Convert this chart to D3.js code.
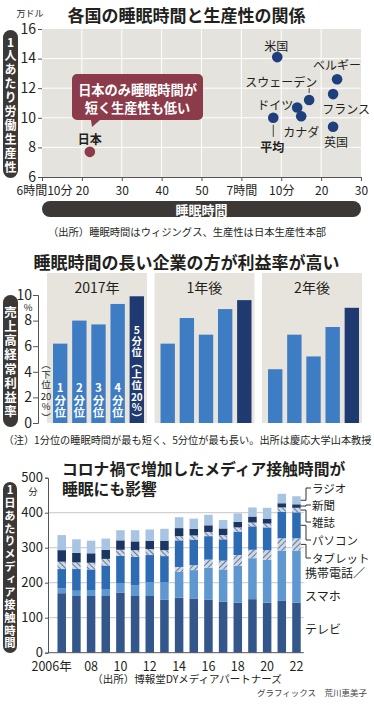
<!DOCTYPE html>
<html lang="ja">
<head>
<meta charset="utf-8">
<script src="https://cdn.jsdelivr.net/npm/d3@7"></script>
<style>
  body { margin: 0; background: #fff; }
  svg { display: block; font-family: "Noto Sans CJK JP", "Noto Sans", sans-serif; }
</style>
</head>
<body>
<svg id="chart" width="374" height="705"></svg>
<script>
// ---- Chart 1: sleep vs productivity
const countries = ['米国', 'ベルギー', 'フランス', 'スウェーデン', 'ドイツ', 'カナダ', '平均', '英国', '日本'];
const sleepMinutes = [429, 444, 443, 437, 434, 435, 428, 443, 382];
const productivity = [14.1, 12.6, 11.6, 11.2, 10.7, 10.1, 10.0, 9.4, 7.7];
const sleepTicks = [370, 380, 390, 400, 410, 420, 430, 440, 450];
const sleepTickLabels = ['6時間10分', '20', '30', '40', '50', '7時間', '10分', '20', '30'];
const productivityTicks = [6, 8, 10, 12, 14, 16];

// ---- Chart 2: profit rate by sleep quintile
const periods = ['2017年', '1年後', '2年後'];
const quintiles = ['1分位', '2分位', '3分位', '4分位', '5分位'];
const profit2017 = [6.2, 8.0, 7.7, 9.3, 9.9];
const profitYear1 = [6.2, 8.2, 6.9, 8.9, 9.6];
const profitYear2 = [4.2, 6.9, 5.2, 7.5, 9.0];
const profitTicks = [0, 2, 4, 6, 8, 10];

// ---- Chart 3: media contact minutes per day
const years = [2006, 2007, 2008, 2009, 2010, 2011, 2012, 2013, 2014, 2015, 2016, 2017, 2018, 2019, 2020, 2021, 2022];
const yearTicks = [2006, 2008, 2010, 2012, 2014, 2016, 2018, 2020, 2022];
const yearTickLabels = ['2006年', '08', '10', '12', '14', '16', '18', '20', '22'];
const tvMinutes =        [170, 162, 162, 162, 172, 162, 162, 151, 157, 155, 152, 146, 143, 153, 143, 148, 143];
const mobileMinutes =    [14, 15, 17, 20, 27, 31, 40, 51, 74, 81, 91, 92, 105, 117, 122, 144, 149];
const tabletMinutes =    [0, 0, 0, 0, 0, 0, 0, 0, 14, 14, 23, 25, 31, 24, 28, 35, 35];
const pcMinutes =        [55, 62, 59, 67, 78, 81, 77, 74, 76, 73, 67, 61, 67, 67, 65, 76, 74];
const magazineMinutes =  [21, 19, 19, 19, 17, 19, 17, 17, 12, 12, 12, 12, 12, 11, 11, 12, 13];
const newspaperMinutes = [33, 27, 27, 26, 27, 25, 24, 27, 23, 19, 19, 19, 16, 17, 14, 12, 10];
const radioMinutes =     [43, 39, 36, 32, 29, 32, 32, 34, 31, 29, 30, 24, 24, 26, 31, 27, 23];
const mediaKeys = ['tv', 'mobile', 'tablet', 'pc', 'magazine', 'newspaper', 'radio'];
const mediaNames = ['テレビ', '携帯電話／スマホ', 'タブレット', 'パソコン', '雑誌', '新聞', 'ラジオ'];
const minuteTicks = [0, 100, 200, 300, 400, 500];

const INK = '#231f1c';
const PILL = '#3b3835';
const svg = d3.select('#chart');

// vertical writing, first glyph centred on yTop
function verticalLabel(parent, label, x, yTop, step, size, weight = 'bold', fill = '#fff') {
    return parent.append('text')
        .attr('x', x).attr('y', yTop - size / 2)
        .style('writing-mode', 'vertical-rl')
        .style('text-orientation', 'upright')
        .style('letter-spacing', (step - size) + 'px')
        .style('font-size', size + 'px')
        .style('font-weight', weight)
        .attr('fill', fill)
        .text(label);
}

// horizontal digits inside a vertical run (tate-chu-yoko)
function uprightDigits(parent, label, x, y, size, weight, fill) {
    return parent.append('text')
        .attr('x', x).attr('y', y)
        .attr('text-anchor', 'middle').attr('dominant-baseline', 'central')
        .style('font-size', size + 'px')
        .style('font-weight', weight)
        .attr('fill', fill)
        .text(label);
}

function pill(parent, x, y, w, h) {
    parent.append('rect')
        .attr('x', x).attr('y', y)
        .attr('width', w).attr('height', h)
        .attr('rx', Math.min(w, h) / 2)
        .attr('fill', PILL);
}

function styleAxis(g, size) {
    g.selectAll('text')
        .style('font-family', '"Noto Sans CJK JP", sans-serif')
        .style('font-size', size + 'px')
        .attr('fill', INK);
    g.selectAll('line').attr('stroke', '#555');
    g.select('.domain').attr('stroke', '#555');
}

// ================= Chart 1 =================
const sleep = svg.append('g').attr('class', 'sleep-chart');
const x1 = d3.scaleLinear().domain([370, 450]).range([42, 361]);
const y1 = d3.scaleLinear().domain([6, 16]).range([177, 29]);

sleep.append('text')
    .attr('x', 186.5).attr('y', 14)
    .attr('text-anchor', 'middle').attr('dominant-baseline', 'central')
    .style('font-size', '17px').style('font-weight', 'bold').attr('fill', INK)
    .text('各国の睡眠時間と生産性の関係');

sleep.append('text')
    .attr('x', 30).attr('y', 13)
    .attr('text-anchor', 'middle').attr('dominant-baseline', 'central')
    .style('font-size', '9px').attr('fill', INK)
    .text('万ドル');

sleep.append('rect')
    .attr('x', x1(370)).attr('y', y1(16))
    .attr('width', x1(450) - x1(370)).attr('height', y1(6) - y1(16))
    .attr('fill', '#e5e3dd');

sleep.selectAll('line.vgrid')
    .data(sleepTicks.slice(1, -1))
    .join('line')
    .attr('class', 'vgrid')
    .attr('x1', d => x1(d)).attr('x2', d => x1(d))
    .attr('y1', y1(16)).attr('y2', y1(6))
    .attr('stroke', '#fff').attr('stroke-width', 1);

sleep.selectAll('line.hgrid')
    .data(productivityTicks.slice(1, -1))
    .join('line')
    .attr('class', 'hgrid')
    .attr('x1', x1(370)).attr('x2', x1(450))
    .attr('y1', d => y1(d)).attr('y2', d => y1(d))
    .attr('stroke', '#fff').attr('stroke-width', 1);

sleep.append('g')
    .attr('transform', `translate(${x1(370)},0)`)
    .call(d3.axisLeft(y1).tickValues(productivityTicks).tickSize(4).tickPadding(2))
    .call(g => g.select('.domain').remove())
    .call(g => styleAxis(g, 14))
    .call(g => g.selectAll('.tick text').attr('dy', '0.3em'));

sleep.append('g')
    .attr('transform', `translate(0,${y1(6)})`)
    .call(d3.axisBottom(x1).tickValues(sleepTicks)
        .tickFormat((d, i) => sleepTickLabels[i]).tickSize(4).tickPadding(5))
    .call(g => styleAxis(g, 12))
    .call(g => g.select('.tick text').attr('dx', 2));

// callout box for Japan
sleep.append('path')
    .attr('d', 'M72,79 a5,5 0 0 1 5,-5 H198 a5,5 0 0 1 5,5 V115 a5,5 0 0 1 -5,5 H100 L92,127 L91,120 H77 a5,5 0 0 1 -5,-5 Z')
    .attr('fill', '#8c3b4b');
sleep.append('text')
    .attr('x', 137.5).attr('y', 89)
    .attr('text-anchor', 'middle').attr('dominant-baseline', 'central')
    .style('font-size', '13.2px').style('font-weight', 'bold').attr('fill', '#fff')
    .text('日本のみ睡眠時間が');
sleep.append('text')
    .attr('x', 137.5).attr('y', 107)
    .attr('text-anchor', 'middle').attr('dominant-baseline', 'central')
    .style('font-size', '13.2px').style('font-weight', 'bold').attr('fill', '#fff')
    .text('短く生産性も低い');

const points = countries.map((name, i) => ({ name, sleep: sleepMinutes[i], prod: productivity[i] }));
// label offsets from each dot
const labelOffsets = {
    '米国': [-1, -12], 'ベルギー': [0, -15], 'フランス': [13, 14], 'スウェーデン': [-28, -19],
    'ドイツ': [-22, -3], 'カナダ': [0, 15], '平均': [-1, 29], '英国': [3, 15], '日本': [0, -13],
};

// leader lines
sleep.append('line')
    .attr('x1', x1(437)).attr('x2', x1(437))
    .attr('y1', y1(11.2) - 12).attr('y2', y1(11.2) - 7)
    .attr('stroke', '#444');
sleep.append('line')
    .attr('x1', x1(428)).attr('x2', x1(428))
    .attr('y1', y1(10.0) + 7).attr('y2', y1(10.0) + 19)
    .attr('stroke', '#444');

sleep.selectAll('circle.country')
    .data(points)
    .join('circle')
    .attr('class', 'country')
    .attr('cx', d => x1(d.sleep)).attr('cy', d => y1(d.prod))
    .attr('r', 5.3)
    .attr('fill', d => d.name === '日本' ? '#8c3b4b' : '#1f3e7c');

sleep.selectAll('text.country')
    .data(points)
    .join('text')
    .attr('class', 'country')
    .attr('x', d => x1(d.sleep) + labelOffsets[d.name][0])
    .attr('y', d => y1(d.prod) + labelOffsets[d.name][1])
    .attr('text-anchor', 'middle').attr('dominant-baseline', 'central')
    .style('font-size', '12px')
    .style('font-weight', d => (d.name === '日本' || d.name === '平均') ? 'bold' : 'normal')
    .attr('fill', INK)
    .text(d => d.name);

pill(sleep, 3, 30, 15, 148);
verticalLabel(sleep, '1人あたり労働生産性', 10.5, 42, 13.9, 12);

pill(sleep, x1(370), 201, x1(450) - x1(370), 16);
sleep.append('text')
    .attr('x', (x1(370) + x1(450)) / 2).attr('y', 209)
    .attr('text-anchor', 'middle').attr('dominant-baseline', 'central')
    .style('font-size', '13px').style('font-weight', 'bold').attr('fill', '#fff')
    .text('睡眠時間');

sleep.append('text')
    .attr('x', 187).attr('y', 231)
    .attr('text-anchor', 'middle').attr('dominant-baseline', 'central')
    .style('font-size', '10.3px').attr('fill', INK)
    .text('（出所）睡眠時間はウィジングス、生産性は日本生産性本部');

// ================= Chart 2 =================
const profit = svg.append('g').attr('class', 'profit-chart');
const profitSeries = [profit2017, profitYear1, profitYear2];
const xPanel = d3.scaleBand().domain(periods).range([47, 362]).paddingInner(0.07);
const xQuint = d3.scaleBand().domain(quintiles).range([4.1, 98.9]).paddingInner(0.25).paddingOuter(0.1);
const y2 = d3.scaleLinear().domain([0, 10]).range([423, 295]);

profit.append('text')
    .attr('x', 186.5).attr('y', 261.5)
    .attr('text-anchor', 'middle').attr('dominant-baseline', 'central')
    .style('font-size', '17px').style('font-weight', 'bold').attr('fill', INK)
    .text('睡眠時間の長い企業の方が利益率が高い');

const panels = profit.selectAll('g.panel')
    .data(periods)
    .join('g')
    .attr('class', 'panel')
    .attr('transform', d => `translate(${xPanel(d)},0)`);

panels.append('rect')
    .attr('y', 273).attr('width', xPanel.bandwidth()).attr('height', y2(0) - 273)
    .attr('fill', '#e7e4dd');

panels.append('text')
    .attr('x', xPanel.bandwidth() / 2).attr('y', 287)
    .attr('text-anchor', 'middle').attr('dominant-baseline', 'central')
    .style('font-size', '14px').attr('fill', INK)
    .text(d => d);

panels.each(function(period, p) {
    d3.select(this).selectAll('rect.bar')
        .data(quintiles.map((q, i) => ({ q, v: profitSeries[p][i] })))
        .join('rect')
        .attr('class', 'bar')
        .attr('x', d => xQuint(d.q))
        .attr('y', d => y2(d.v))
        .attr('width', xQuint.bandwidth())
        .attr('height', d => y2(0) - y2(d.v))
        .attr('fill', d => d.q === '5分位' ? '#1f3a70' : '#3e7cc3');
});

profit.append('g')
    .attr('transform', 'translate(38,0)')
    .call(d3.axisLeft(y2).tickValues(profitTicks).tickSize(5).tickPadding(1))
    .call(g => styleAxis(g, 14))
    .call(g => g.selectAll('.tick text').attr('dy', '0.3em'));

profit.append('text')
    .attr('x', 28).attr('y', 306.5)
    .attr('text-anchor', 'middle').attr('dominant-baseline', 'central')
    .style('font-size', '9.5px').attr('fill', INK)
    .text('%');

// quintile labels inside the 2017 bars
const firstPanel = xPanel(periods[0]);
const barMid = q => firstPanel + xQuint(q) + xQuint.bandwidth() / 2;
quintiles.slice(0, 4).forEach(q => {
    verticalLabel(profit, q, barMid(q), 388, 12.2, 11.5);
});
const topQ = quintiles[4];
verticalLabel(profit, topQ + '（上位', barMid(topQ), 330, 11, 10.5);
uprightDigits(profit, '20', barMid(topQ), 396.5, 10, 'bold', '#fff');
verticalLabel(profit, '%）', barMid(topQ), 407.5, 11, 10.5);

verticalLabel(profit, '（下位', 46, 364, 10.4, 9.5, 'normal', INK);
uprightDigits(profit, '20', 46, 396, 9.5, 'normal', INK);
verticalLabel(profit, '%）', 46, 406.5, 10.4, 9.5, 'normal', INK);

pill(profit, 3, 295, 15, 132);
verticalLabel(profit, '売上高経常利益率', 10.5, 312, 14.2, 12.5);

profit.append('text')
    .attr('x', 187.5).attr('y', 439)
    .attr('text-anchor', 'middle').attr('dominant-baseline', 'central')
    .attr('textLength', 368).attr('lengthAdjust', 'spacingAndGlyphs')
    .style('font-size', '10.3px').attr('fill', INK)
    .text('（注）1分位の睡眠時間が最も短く、5分位が最も長い。出所は慶応大学山本教授');

// ================= Chart 3 =================
const media = svg.append('g').attr('class', 'media-chart');
const x3 = d3.scaleBand().domain(years).range([54.4, 303.8]).paddingInner(0.42).paddingOuter(0.21);
const y3 = d3.scaleLinear().domain([0, 500]).range([652.7, 477.7]);

const defs = svg.append('defs');
[['hatchBack', -45], ['hatchFwd', 45]].forEach(([id, angle]) => {
    const pat = defs.append('pattern')
        .attr('id', id)
        .attr('patternUnits', 'userSpaceOnUse')
        .attr('width', 4).attr('height', 4)
        .attr('patternTransform', `rotate(${angle})`);
    pat.append('rect').attr('width', 4).attr('height', 4).attr('fill', '#cdd7e4');
    pat.append('line').attr('x1', 0).attr('x2', 0).attr('y1', 0).attr('y2', 4)
        .attr('stroke', '#34507e').attr('stroke-width', 1.4);
});

const mediaColours = d3.scaleOrdinal()
    .domain(mediaKeys)
    .range(['#34578b', '#5f97d1', 'url(#hatchFwd)', '#2d6bb3', 'url(#hatchBack)', '#1c3664', '#a8c4e3']);

media.append('text')
    .attr('x', 62).attr('y', 468.5)
    .attr('dominant-baseline', 'central')
    .style('font-size', '15.8px').style('font-weight', 'bold').attr('fill', INK)
    .text('コロナ禍で増加したメディア接触時間が');
media.append('text')
    .attr('x', 62).attr('y', 488.5)
    .attr('dominant-baseline', 'central')
    .style('font-size', '15.8px').style('font-weight', 'bold').attr('fill', INK)
    .text('睡眠にも影響');

media.selectAll('line.grid')
    .data(minuteTicks.slice(1, -1))
    .join('line')
    .attr('class', 'grid')
    .attr('x1', 48).attr('x2', 303.8)
    .attr('y1', d => y3(d)).attr('y2', d => y3(d))
    .attr('stroke', '#b8b8b8').attr('stroke-width', 0.8);

const mediaTable = years.map((year, i) => ({
    year,
    tv: tvMinutes[i],
    mobile: mobileMinutes[i],
    tablet: tabletMinutes[i],
    pc: pcMinutes[i],
    magazine: magazineMinutes[i],
    newspaper: newspaperMinutes[i],
    radio: radioMinutes[i],
}));
const stacked = d3.stack().keys(mediaKeys)(mediaTable);

media.selectAll('g.layer')
    .data(stacked)
    .join('g')
    .attr('class', 'layer')
    .attr('fill', d => mediaColours(d.key))
    .selectAll('rect')
    .data(d => d)
    .join('rect')
    .attr('x', d => x3(d.data.year))
    .attr('y', d => y3(d[1]))
    .attr('width', x3.bandwidth())
    .attr('height', d => y3(d[0]) - y3(d[1]));

media.append('g')
    .attr('transform', 'translate(48,0)')
    .call(d3.axisLeft(y3).tickValues(minuteTicks).tickSize(3).tickPadding(2))
    .call(g => styleAxis(g, 13))
    .call(g => g.selectAll('.tick text').attr('dy', '0.3em'));

media.append('line')
    .attr('x1', 48).attr('x2', 303.8)
    .attr('y1', y3(0)).attr('y2', y3(0))
    .attr('stroke', '#555');

media.append('text')
    .attr('x', 33).attr('y', 490.5)
    .attr('text-anchor', 'middle').attr('dominant-baseline', 'central')
    .style('font-size', '9.5px').attr('fill', INK)
    .text('分');

media.append('g')
    .attr('transform', `translate(0,${y3(0)})`)
    .call(d3.axisBottom(x3).tickValues(yearTicks)
        .tickFormat((d, i) => yearTickLabels[i]).tickSize(0).tickPadding(9))
    .call(g => g.select('.domain').remove())
    .call(g => styleAxis(g, 12.5))
    .call(g => g.select('.tick text').attr('text-anchor', 'end').attr('dx', 10));

// legend beside the last bar
const lastRow = stacked.map(layer => layer[layer.length - 1]);
const barRight = x3(years[years.length - 1]) + x3.bandwidth();
const legendY = [628, 572, 558, 540, 522, 505, 488];
const bracketed = ['tablet', 'pc', 'magazine', 'newspaper', 'radio'];

mediaKeys.forEach((key, i) => {
    const seg = lastRow[i];
    const mid = y3((seg[0] + seg[1]) / 2);
    if (bracketed.includes(key)) {
        media.append('path')
            .attr('d', `M${barRight},${mid} H306 V${legendY[i]} H311`)
            .attr('fill', 'none').attr('stroke', '#333').attr('stroke-width', 1);
        media.append('text')
            .attr('x', 312).attr('y', legendY[i])
            .attr('dominant-baseline', 'central')
            .style('font-size', '11.5px').attr('fill', INK)
            .text(mediaNames[i]);
    } else {
        const lines = mediaNames[i].split(/(?<=／)/);
        lines.forEach((line, j) => {
            media.append('text')
                .attr('x', 305).attr('y', legendY[i] + j * 23)
                .attr('dominant-baseline', 'central')
                .style('font-size', '12px').attr('fill', INK)
                .text(line);
        });
    }
});

pill(media, 3, 482, 14, 171);
verticalLabel(media, '1日あたりメディア接触時間', 10, 490, 12.75, 11.3);

media.append('text')
    .attr('x', 187).attr('y', 678)
    .attr('text-anchor', 'middle').attr('dominant-baseline', 'central')
    .style('font-size', '10.5px').attr('fill', INK)
    .text('（出所）博報堂DYメディアパートナーズ');

media.append('text')
    .attr('x', 367).attr('y', 692)
    .attr('text-anchor', 'end').attr('dominant-baseline', 'central')
    .style('font-size', '8.5px').attr('fill', '#444')
    .text('グラフィックス　荒川恵美子');
</script>
</body>
</html>
